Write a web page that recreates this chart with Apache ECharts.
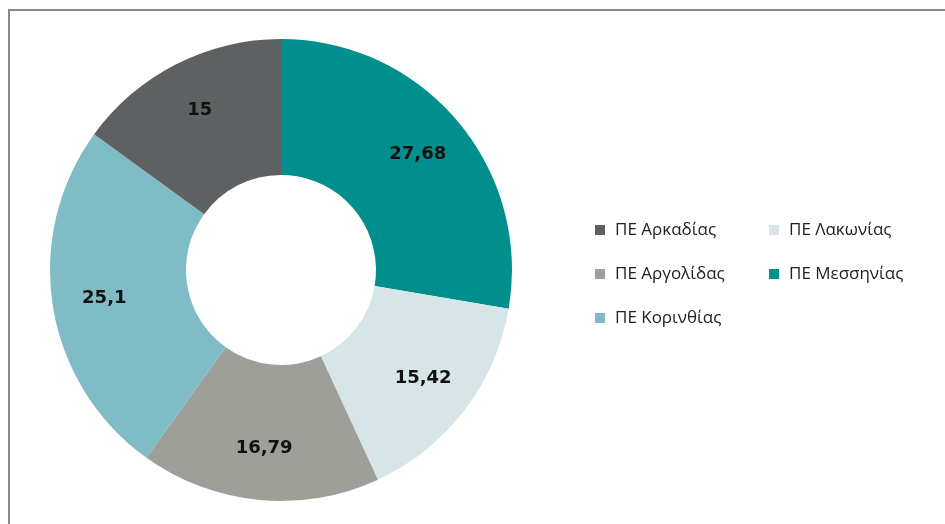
<!DOCTYPE html>
<html>
<head>
<meta charset="utf-8">
<script src="https://cdn.jsdelivr.net/npm/echarts@6/dist/echarts.min.js"></script>
<style>
  html, body { margin: 0; padding: 0; background: #fff; }
  #main { width: 945px; height: 524px; }
</style>
</head>
<body>
<div id="main"></div>
<script>
// περιφερειακές ενότητες (σειρά κατά τη φορά του γραφήματος)
var regions = ['ΠΕ Μεσσηνίας', 'ΠΕ Λακωνίας', 'ΠΕ Αργολίδας', 'ΠΕ Κορινθίας', 'ΠΕ Αρκαδίας'];
var shares = [27.68, 15.42, 16.79, 25.1, 15];
var palette = ['#008f8c', '#d6e6e8', '#9f9f9a', '#80bcc6', '#5e6162'];

// σειρά του υπομνήματος
var legendLeftCol = ['ΠΕ Αρκαδίας', 'ΠΕ Αργολίδας', 'ΠΕ Κορινθίας'];
var legendRightCol = ['ΠΕ Λακωνίας', 'ΠΕ Μεσσηνίας'];

var CX = 281, CY = 270;

var myChart = echarts.init(document.getElementById('main'));

var legendText = {
    fontSize: 17,
    color: '#222',
    fontFamily: 'Open Sans',
    lineHeight: 20,
    padding: [0, 0, 0, 5]
};

var pieData = regions.map(function (name, i) {
    return { name: name, value: shares[i], itemStyle: { color: palette[i] } };
});

function legendCol(left, data) {
    return {
        orient: 'vertical',
        left: left,
        top: 220,
        padding: 0,
        itemWidth: 10,
        itemHeight: 10,
        itemGap: 24,
        icon: 'rect',
        textStyle: legendText,
        data: data
    };
}

var option = {
    animation: false,
    backgroundColor: '#fff',
    graphic: [{
        type: 'rect',
        shape: { x: 9, y: 10, width: 1000, height: 1000 },
        style: { fill: 'none', stroke: '#8a8a8a', lineWidth: 2 },
        silent: true
    }],
    legend: [legendCol(595, legendLeftCol), legendCol(769, legendRightCol)],
    series: [{
        type: 'pie',
        center: [CX, CY],
        radius: [95, 231],
        startAngle: 90,
        clockwise: true,
        avoidLabelOverlap: false,
        label: {
            show: true,
            position: 'inside',
            formatter: function (p) {
                return String(p.value).replace('.', ',');
            },
            color: '#111',
            fontSize: 18,
            fontWeight: 'bold',
            fontFamily: 'DejaVu Sans'
        },
        // σπρώχνουμε τις ετικέτες λίγο προς τα έξω
        labelLayout: function (params) {
            var r = params.labelRect;
            var x = r.x + r.width / 2, y = r.y + r.height / 2;
            var dx = x - CX, dy = y - CY;
            var d = Math.sqrt(dx * dx + dy * dy);
            var k = (d + 13) / d;
            return {
                x: CX + dx * k,
                y: CY + dy * k,
                align: 'center',
                verticalAlign: 'middle'
            };
        },
        labelLine: { show: false },
        emphasis: { disabled: true },
        data: pieData
    }]
};

myChart.setOption(option);
</script>
</body>
</html>
